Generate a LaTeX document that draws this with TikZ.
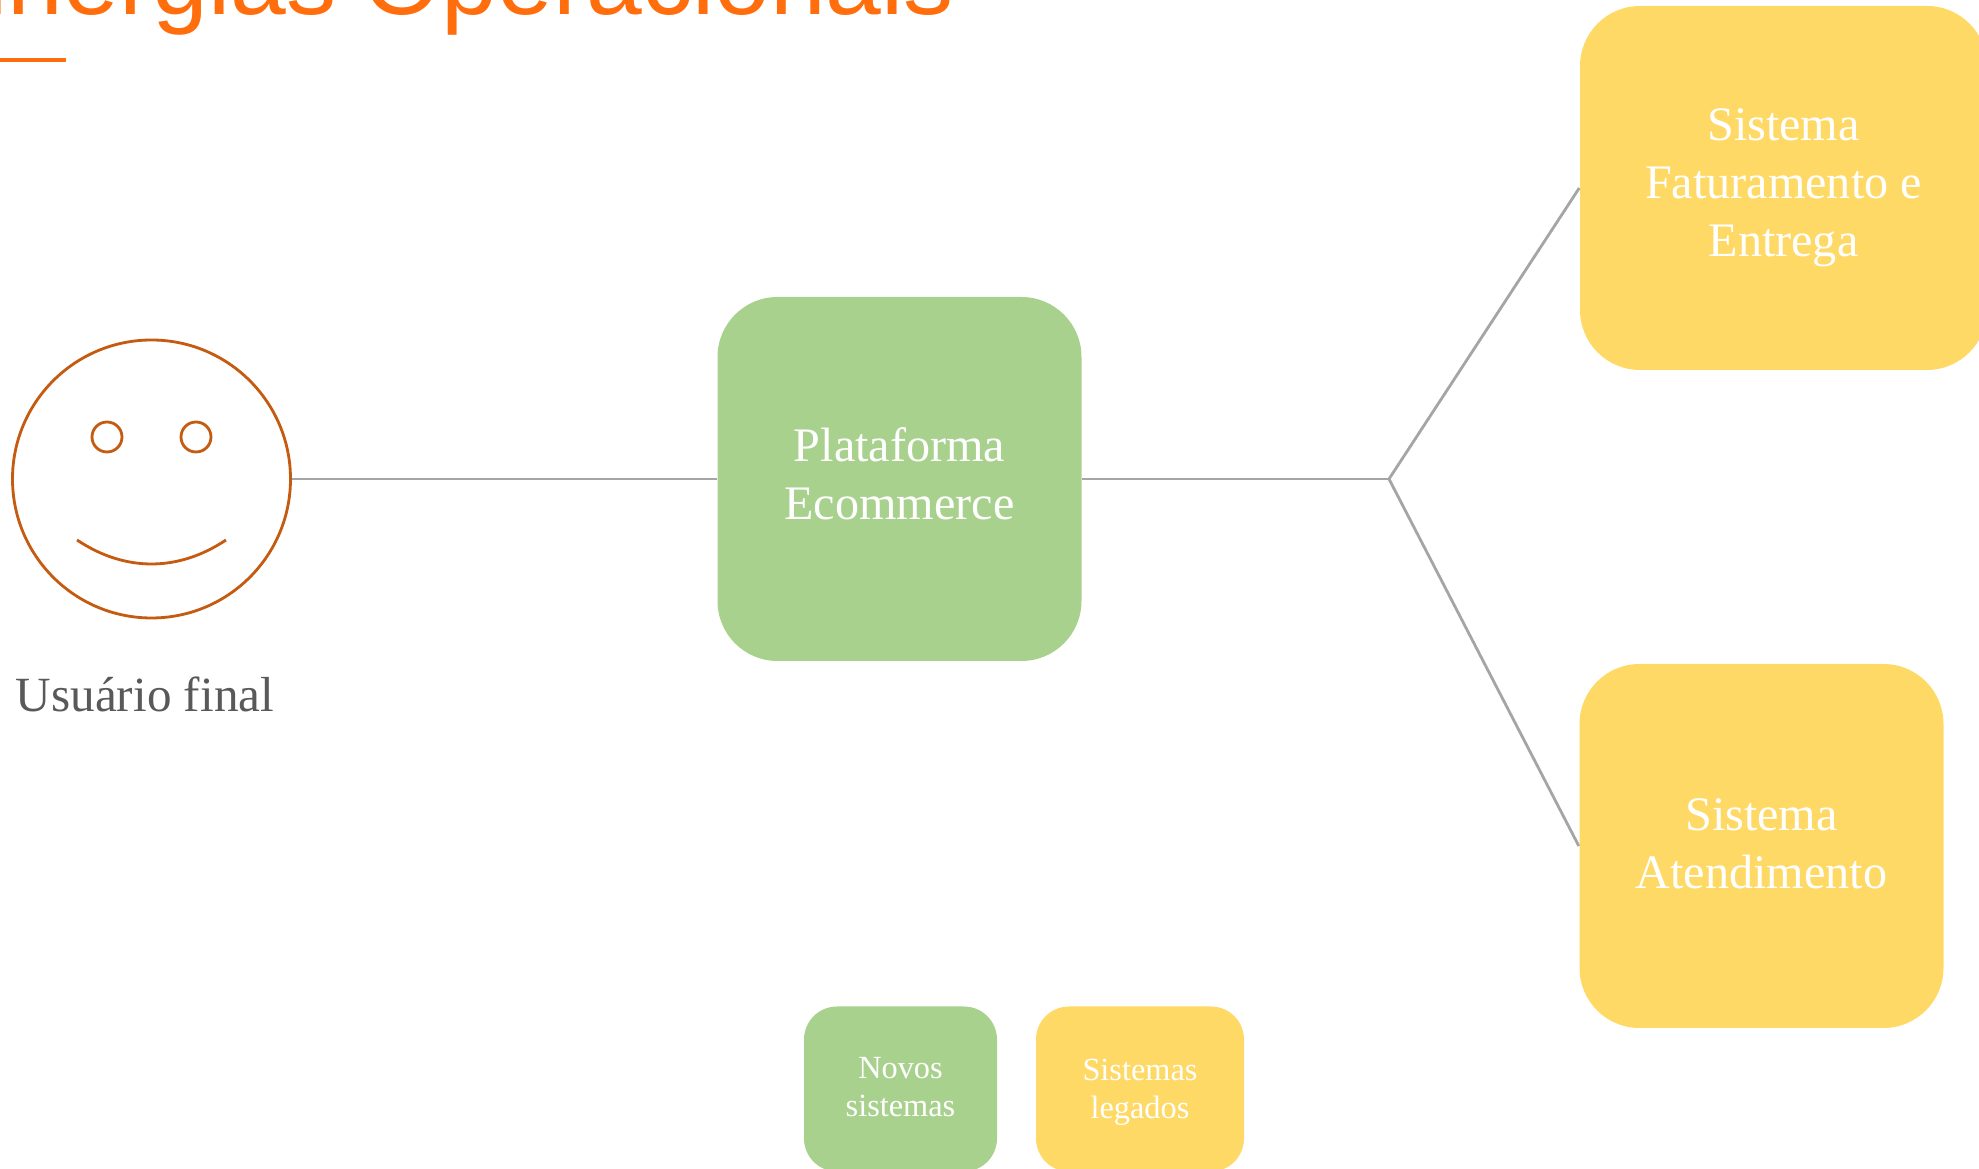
\documentclass[tikz,border=0pt]{standalone}
\usepackage{fontspec}
\setmainfont{Liberation Serif}
\newfontfamily\titlefont{Liberation Sans}

\definecolor{titleorange}{HTML}{FF6D0D}
\definecolor{boxgreen}{HTML}{A9D18E}
\definecolor{boxyellow}{HTML}{FFD966}
\definecolor{faceline}{HTML}{C55A11}
\definecolor{linkgray}{HTML}{A5A5A5}
\definecolor{labelgray}{HTML}{595959}

\tikzset{
  sysbox/.style={rectangle, rounded corners=0.6cm, minimum width=3.64cm, minimum height=3.64cm, inner sep=0pt, text = white, align=center, font=\fontsize{13.7}{16.5}\selectfont},
  keybox/.style={rectangle, rounded corners=0.33cm, minimum height=1.65cm, inner sep=0pt, text = white, align=center, font=\fontsize{9.2}{10.8}\selectfont},
  link/.style={draw=linkgray, line width=0.8pt}
}

\begin{document}
\begin{tikzpicture}
\useasboundingbox (0,0) rectangle (19.79,11.69);
\clip (0,0) rectangle (19.79,11.69);

\node[anchor=base east, inner sep=0pt, text = titleorange, font=\titlefont\fontsize{28.5}{34}\selectfont] (title) at (9.55,11.54) {Sinergias Operacionais};
\draw[titleorange, line width=1.2pt] (-.1,11.09) -- (.66,11.09);

\node[circle, draw=faceline, line width=.8pt, minimum size=2.78cm, inner sep=0pt] (face) at (1.515,6.90) {};
\draw[faceline, line width=.8pt] (1.07,7.32) circle (.15);
\draw[faceline, line width=.8pt] (1.96,7.32) circle (.15);
\draw[faceline, line width=.8pt] (.77,6.29) .. controls (1.25,5.97) and (1.78,5.97) .. (2.26,6.29);
\node[inner sep=0pt, text = labelgray, font=\fontsize{14}{16}\selectfont] (user) at (1.45,4.75) {Usuário final};

\node[sysbox, fill=boxgreen, text depth=.1cm] (ecommerce) at (8.995,6.90) {Plataforma\\Ecommerce};
\node[sysbox, fill=boxyellow, minimum width=4.07cm] (billing) at (17.835,9.81) {Sistema\\Faturamento e\\Entrega};
\node[sysbox, fill=boxyellow, text depth=.05cm] (support) at (17.615,3.23) {Sistema\\Atendimento};

\coordinate (split) at (13.89,6.90);
\draw[link, line width=.6pt] (face) -- (ecommerce);
\draw[link] (ecommerce) -- (split);
\draw[link] (split) -- (billing.west);
\draw[link] (split) -- (support.west);

\node[keybox, fill=boxgreen, minimum width=1.93cm, text depth=.05cm] (newsys) at (9.005,.80) {Novos\\sistemas};
\node[keybox, fill=boxyellow, minimum width=2.08cm, text depth=0cm] (oldsys) at (11.40,.80) {Sistemas\\legados};
\end{tikzpicture}
\end{document}
